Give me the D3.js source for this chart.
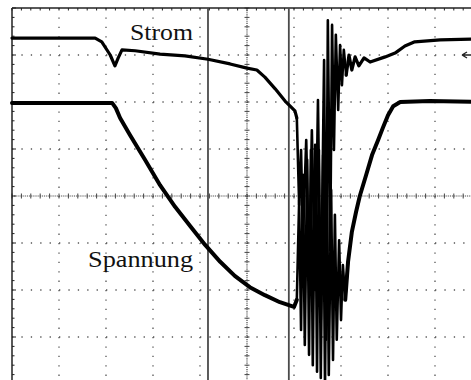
<!DOCTYPE html>
<html>
<head>
<meta charset="utf-8">
<script src="https://cdn.jsdelivr.net/npm/d3@7"></script>
<style>
  body { margin: 0; background: #fff; }
  svg { display: block; }
  .label { font-family: "Liberation Serif", "Times New Roman", serif; font-size: 22.5px; fill: #111; }
</style>
</head>
<body>
<div id="scope"></div>
<script>
// screen is 10 x 8 divisions, values in divisions (time, level)
const stromTime  = [-5.00,-3.23,-3.09,-2.91,-2.81,-2.74,-2.66,-2.38,-1.85,-1.32,-0.83,-0.36,0.00,0.21,0.38,0.60,0.81,0.94,1.02,1.06,
                    1.11,1.15,1.19,1.26,1.32,1.38,1.45,1.51,1.57,1.64,1.68,1.72,1.77,1.81,1.85,1.89,1.94,1.98,2.02,2.06,2.11,2.17,2.23,2.30,2.38,2.49,2.62,2.94,3.15,3.36,3.57,4.11,4.77,5.00];
const stromLevel = [3.36,3.36,3.28,3.00,2.77,2.94,3.11,3.09,3.02,2.98,2.91,2.81,2.72,2.68,2.53,2.28,2.02,1.89,1.81,1.66,
                    -0.19,0.98,-0.94,1.19,-1.57,1.40,-2.00,2.04,-2.64,2.89,-3.06,3.74,-1.15,3.64,0.98,3.43,1.83,3.21,2.36,3.11,2.57,3.00,2.68,2.96,2.77,2.94,2.85,2.96,3.04,3.19,3.28,3.32,3.34,3.34];

const spannungTime  = [-5.00,-2.87,-2.79,-2.70,-2.49,-2.17,-1.85,-1.53,-1.21,-0.89,-0.57,-0.26,0.06,0.38,0.70,1.00,1.06,
                       1.11,1.15,1.19,1.23,1.28,1.32,1.36,1.40,1.45,1.49,1.53,1.57,1.62,1.66,1.70,1.74,1.79,1.83,1.87,1.91,1.96,2.00,2.04,2.09,
                       2.15,2.23,2.32,2.40,2.53,2.66,2.79,2.89,3.00,3.11,3.26,3.89,5.00];
const spannungLevel = [1.98,1.98,1.87,1.66,1.30,0.77,0.23,-0.23,-0.64,-1.04,-1.40,-1.70,-1.94,-2.11,-2.26,-2.36,-2.21,
                       -0.09,-2.85,0.45,-3.17,0.77,-3.38,0.98,-3.60,1.09,-3.74,0.98,-3.87,0.87,-4.02,0.55,-3.81,0.13,-3.49,-0.40,-3.06,-0.94,-2.64,-1.47,-2.21,
                       -1.40,-0.77,-0.34,0.00,0.43,0.87,1.19,1.45,1.72,1.91,2.00,2.02,2.00];

// time window of the ringing after switch-off
const ringStart = 1.06, ringEnd = 2.15;
const cursorTimes = [-0.83, 0.89];
const markerLevel = 3.0;
const labels = [
  {text: 'Strom', t: -2.49, v: 3.32, len: 63},
  {text: 'Spannung', t: -3.38, v: -1.51, len: 105}
];

const width = 471, height = 380;
const svg = d3.select('#scope').append('svg').attr('width', width).attr('height', height);

const x = d3.scaleLinear().domain([-5, 5]).range([12, 482]);
const y = d3.scaleLinear().domain([4, -4]).range([8, 384]);

// dotted graticule
const grid = svg.append('g').attr('stroke', '#555').attr('stroke-width', 1.3);
d3.range(-4, 6).filter(d => d !== 0).forEach(d => {
  grid.append('line').attr('x1', x(d)).attr('x2', x(d)).attr('y1', y(4)).attr('y2', y(-4))
    .attr('stroke-dasharray', '1.3,8.1');
});
d3.range(-3, 4).filter(d => d !== 0).forEach(d => {
  grid.append('line').attr('x1', x(-5)).attr('x2', x(5)).attr('y1', y(d)).attr('y2', y(d))
    .attr('stroke-dasharray', '1.3,8.1');
});

// centre axes with minor ticks
const centre = svg.append('g').attr('stroke', '#444');
centre.append('line').attr('x1', x(-5)).attr('x2', x(5)).attr('y1', y(0)).attr('y2', y(0))
  .attr('stroke-dasharray', '1,0.88').attr('stroke-width', 1.2);
centre.append('line').attr('x1', x(0)).attr('x2', x(0)).attr('y1', y(4)).attr('y2', y(-4))
  .attr('stroke-dasharray', '1,0.88').attr('stroke-width', 1.2);
const minor = d3.range(-25, 26).map(i => i / 5);
centre.selectAll('.hx').data(minor).join('line')
  .attr('x1', d => x(d)).attr('x2', d => x(d))
  .attr('y1', y(0) - 2.5).attr('y2', y(0) + 2.5).attr('stroke-width', 1);
centre.selectAll('.vy').data(minor.filter(d => Math.abs(d) <= 4)).join('line')
  .attr('class', 'vy')
  .attr('y1', d => y(d)).attr('y2', d => y(d))
  .attr('x1', x(0) - 2.5).attr('x2', x(0) + 2.5).attr('stroke-width', 1);

// frame with ticks
const frame = svg.append('g').attr('stroke', '#222');
frame.append('line').attr('x1', x(-5)).attr('x2', x(5)).attr('y1', y(4)).attr('y2', y(4)).attr('stroke-width', 1.5);
frame.append('line').attr('x1', x(-5)).attr('x2', x(-5)).attr('y1', y(4)).attr('y2', y(-4)).attr('stroke-width', 1.5);
frame.selectAll('.ly').data(minor.filter(d => Math.abs(d) <= 4)).join('line')
  .attr('class', 'ly')
  .attr('x1', x(-5)).attr('x2', d => x(-5) + (Number.isInteger(d) ? 4 : 2.5))
  .attr('y1', d => y(d)).attr('y2', d => y(d)).attr('stroke-width', 1);
frame.selectAll('.ty').data(minor).join('line')
  .attr('class', 'ty')
  .attr('y1', y(4)).attr('y2', y(4) + 2.5)
  .attr('x1', d => x(d)).attr('x2', d => x(d)).attr('stroke-width', 1);

// cursors
svg.append('g').selectAll('line').data(cursorTimes).join('line')
  .attr('x1', d => x(d)).attr('x2', d => x(d)).attr('y1', y(4)).attr('y2', y(-4))
  .attr('stroke', '#4a4a4a').attr('stroke-width', 1.8);

// traces: thick where slow, thinner during the ringing
function drawTrace(times, levels, w) {
  const pts = times.map((t, i) => [t, levels[i]]);
  const line = d3.line().x(d => x(d[0])).y(d => y(d[1]));
  const before = pts.filter(d => d[0] <= ringStart);
  const ring = pts.filter(d => d[0] >= ringStart && d[0] <= ringEnd);
  const after = pts.filter(d => d[0] >= ringEnd - 0.07);
  const g = svg.append('g').attr('fill', 'none').attr('stroke', '#000')
    .attr('stroke-linejoin', 'round').attr('stroke-linecap', 'round');
  g.append('path').attr('d', line(before)).attr('stroke-width', w);
  g.append('path').attr('d', line(ring)).attr('stroke-width', 2.6);
  g.append('path').attr('d', line(after)).attr('stroke-width', w);
}
drawTrace(spannungTime, spannungLevel, 4);
drawTrace(stromTime, stromLevel, 3.2);

// channel marker at right edge
svg.append('path')
  .attr('d', `M${width - 9},${y(markerLevel)} l5,-3 M${width - 9},${y(markerLevel)} l5,3 M${width - 9},${y(markerLevel)} h9`)
  .attr('stroke', '#222').attr('stroke-width', 1.4).attr('fill', 'none');

// labels
svg.selectAll('.label').data(labels).join('text')
  .attr('class', 'label')
  .attr('x', d => x(d.t)).attr('y', d => y(d.v))
  .attr('textLength', d => d.len).attr('lengthAdjust', 'spacingAndGlyphs')
  .text(d => d.text);
</script>
</body>
</html>
